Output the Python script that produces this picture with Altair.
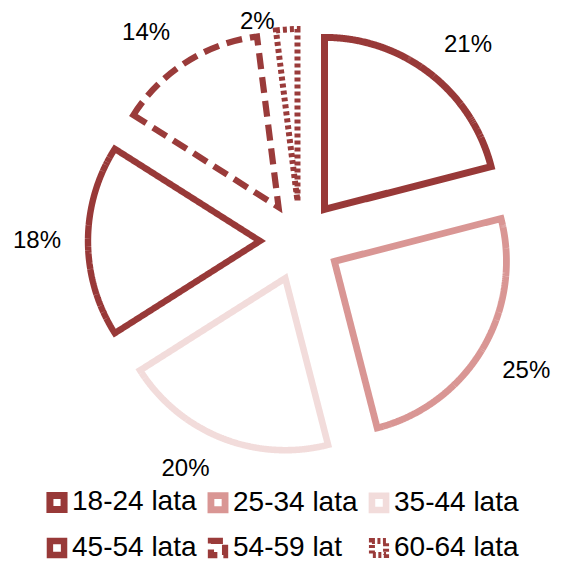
import json
import altair as alt
import pandas as pd

categories = ["18-24 lata", "25-34 lata", "35-44 lata", "45-54 lata", "54-59 lat", "60-64 lata"]
values = [21, 25, 20, 18, 14, 2]
order = [1, 2, 3, 4, 5, 6]

colors = ["#983938", "#d99694", "#f2dcdb", "#983938", "#9a3b3a", "#9a3b3a"]
dashes = [[1, 0], [1, 0], [1, 0], [1, 0], [16, 8], [4, 3]]
legend_dashes = [[1, 0], [1, 0], [1, 0], [1, 0], [12, 6], [3, 2.5]]
widths = [7, 6, 5, 4.5, 4.5, 4.5]

df = pd.DataFrame({"cat": categories, "value": values, "idx": order})

CX, CY, R, D, LR = 292, 233, 172, 40, 235

cats_js = json.dumps(categories)
dash_expr = f"{json.dumps(dashes)}[indexof({cats_js}, datum.cat)]"
legend_dash_expr = f"{json.dumps(legend_dashes)}[indexof({cats_js}, datum.value)]"

base = alt.Chart(df).transform_joinaggregate(
    total="sum(value)"
).transform_window(
    cum="sum(value)", sort=[alt.SortField("idx")], frame=[None, 0]
).transform_calculate(
    a1="2*PI*datum.cum/datum.total",
    a0="2*PI*(datum.cum-datum.value)/datum.total",
).transform_calculate(
    mid="(datum.a0+datum.a1)/2"
).transform_calculate(
    px=f"{CX}+{D}*sin(datum.mid)",
    py=f"{CY}-{D}*cos(datum.mid)",
    lx=f"{CX}+{LR}*sin(datum.mid)+(sin(datum.mid)>0?24:-28)",
    ly=f"max(14,{CY}-{LR}*cos(datum.mid)+(cos(datum.mid)>0.2?-10:(cos(datum.mid)<-0.2?10:0)))",
    label="datum.value+'%'",
)

scale_cat = dict(domain=categories)

arcs = base.mark_arc(radius=R, fill="white", strokeJoin="miter", strokeMiterLimit=20,
                     strokeDash=alt.expr(dash_expr)).encode(
    theta=alt.Theta("a0:Q", scale=None),
    theta2=alt.Theta2("a1:Q"),
    x=alt.X("px:Q", scale=None, axis=None),
    y=alt.Y("py:Q", scale=None, axis=None),
    stroke=alt.Stroke("cat:N", scale=alt.Scale(range=colors, **scale_cat),
                      legend=alt.Legend(title=None, orient="none", legendX=35, legendY=480,
                                        columns=3, direction="horizontal",
                                        symbolType="square", symbolSize=200,
                                        symbolStrokeWidth=4.5, symbolFillColor="white",
                                        symbolDash=alt.expr(legend_dash_expr),
                                        labelFontSize=28, labelFont="Liberation Sans",
                                        labelColor="black", labelOffset=1,
                                        columnPadding=0, rowPadding=4, labelLimit=300)),
    strokeWidth=alt.StrokeWidth("cat:N", scale=alt.Scale(range=widths, **scale_cat), legend=None),
)

labels = base.mark_text(font="Liberation Sans", fontSize=24, color="black",
                        align="center", baseline="middle").encode(
    x=alt.X("lx:Q", scale=None, axis=None),
    y=alt.Y("ly:Q", scale=None, axis=None),
    text="label:N",
)

chart = alt.layer(arcs, labels).properties(
    width=547, height=553, padding=0, autosize="none"
).configure_view(stroke=None)

chart.save("out.html", embed_options={"renderer": "svg", "actions": False})
